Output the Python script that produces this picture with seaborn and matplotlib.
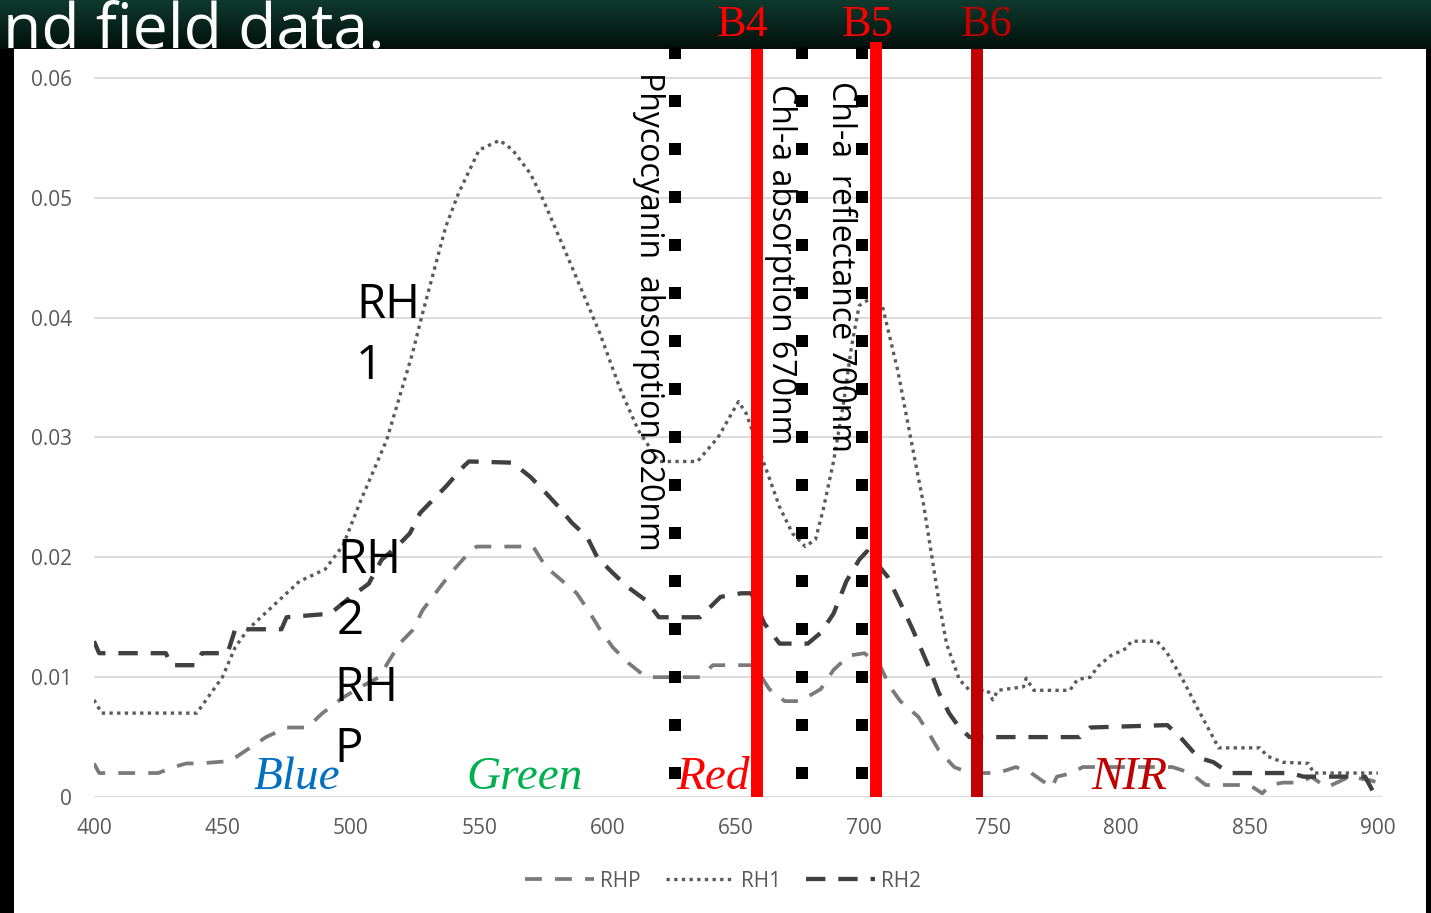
import numpy as np
import pandas as pd
import seaborn as sns
import matplotlib.pyplot as plt
from matplotlib.patches import Rectangle
from matplotlib.colors import LinearSegmentedColormap
from matplotlib.transforms import blended_transform_factory

# spectra (wavelength nm, reflectance)
rh1_wl = [400, 403, 440, 445, 450, 455, 460, 470, 480, 490, 497, 504, 514, 524, 528,
          537, 542, 550, 558, 563, 570, 575, 585, 597, 605, 612, 620, 635, 643, 651,
          654, 660, 667, 672, 677, 681, 684, 688, 692, 695, 698, 703, 707, 713, 718,
          723, 729, 732, 737, 741, 748, 750, 752, 762, 763, 766, 780, 783, 788, 791,
          796, 802, 804, 814, 818, 824, 830, 835, 838, 854, 857, 863, 873, 875, 900]
rh1 = [0.0081, 0.007, 0.007, 0.0085, 0.010, 0.0125, 0.014, 0.016, 0.018, 0.019, 0.021,
       0.0248, 0.0298, 0.037, 0.0404, 0.0476, 0.0504, 0.054, 0.0548, 0.054, 0.052, 0.0498,
       0.0448, 0.0387, 0.034, 0.0306, 0.028, 0.028, 0.030, 0.033, 0.032, 0.0284, 0.0242,
       0.022, 0.0209, 0.0215, 0.024, 0.028, 0.033, 0.0376, 0.041, 0.0417, 0.041, 0.0356,
       0.030, 0.0245, 0.0164, 0.0128, 0.0098, 0.0089, 0.0089, 0.0081, 0.0089, 0.0092,
       0.0099, 0.0089, 0.0089, 0.0098, 0.010, 0.0109, 0.0118, 0.0124, 0.013, 0.013, 0.012,
       0.0098, 0.0073, 0.0053, 0.0041, 0.0041, 0.0034, 0.0029, 0.0028, 0.002, 0.002]

rh2_wl = [400, 402, 428, 430, 440, 442, 452, 455, 473, 475, 492, 500, 507, 512, 518,
          523, 527, 532, 537, 544, 546, 563, 570, 575, 581, 586, 592, 596, 602, 608,
          615, 620, 636, 644, 652, 656, 661, 667, 678, 683, 688, 693, 698, 701, 709,
          714, 719, 725, 729, 733, 737, 741, 784, 788, 818, 823, 830, 836, 842, 866,
          871, 895, 898, 900]
rh2 = [0.013, 0.012, 0.012, 0.011, 0.011, 0.012, 0.012, 0.014, 0.014, 0.015, 0.0153,
       0.0167, 0.0178, 0.0198, 0.0209, 0.022, 0.0237, 0.0248, 0.0259, 0.0276, 0.028,
       0.0279, 0.0267, 0.0256, 0.0242, 0.0229, 0.0217, 0.020, 0.0187, 0.0175, 0.0164,
       0.015, 0.015, 0.0167, 0.017, 0.017, 0.0145, 0.0128, 0.0128, 0.0137, 0.0153, 0.018,
       0.0198, 0.0205, 0.0184, 0.0162, 0.0139, 0.0109, 0.0087, 0.007, 0.0058, 0.005,
       0.005, 0.0058, 0.006, 0.005, 0.0033, 0.0029, 0.002, 0.002, 0.0017, 0.0017,
       0.0005, 0.0003]

rhp_wl = [400, 402, 425, 431, 436, 441, 453, 460, 467, 475, 483, 489, 497, 504, 511,
          515, 519, 524, 528, 534, 539, 544, 549, 571, 576, 582, 588, 593, 597, 602,
          608, 615, 636, 641, 657, 663, 669, 675, 683, 688, 694, 700, 706, 710, 714,
          721, 726, 729, 735, 741, 752, 759, 765, 773, 775, 781, 785, 820, 827, 833,
          850, 855, 858, 863, 870, 874, 880, 889, 897, 900]
rhp = [0.0028, 0.002, 0.002, 0.0025, 0.0028, 0.0028, 0.003, 0.004, 0.005, 0.0058,
       0.0058, 0.007, 0.0083, 0.0092, 0.010, 0.0114, 0.0128, 0.0139, 0.0156, 0.0173,
       0.0187, 0.0199, 0.0209, 0.0209, 0.0192, 0.0181, 0.017, 0.0154, 0.014, 0.0125,
       0.0112, 0.010, 0.010, 0.011, 0.011, 0.009, 0.008, 0.008, 0.009, 0.0106, 0.0118,
       0.012, 0.011, 0.0092, 0.008, 0.0067, 0.005, 0.0039, 0.0025, 0.002, 0.002, 0.0025,
       0.002, 0.0008, 0.0017, 0.002, 0.0025, 0.0025, 0.002, 0.001, 0.001, 0.0003, 0.001,
       0.0012, 0.0012, 0.0017, 0.0008, 0.0017, 0.0014, 0.0012]

# Sentinel-2 bands and pigment lines
band_names = ["B4", "B5", "B6"]
band_wl = [658.2, 704.5, 743.8]
band_colors = ["#ff0000", "#ff0000", "#c00000"]
pigment_wl = [626.2, 675.7, 699.0]
pigment_labels = ["Phycocyanin  absorption 620nm", "Chl-a absorption 670nm",
                  "Chl-a  reflectance 700nm"]
region_names = ["Blue", "Green", "Red", "NIR"]
region_colors = ["#0070c0", "#00b050", "#ff0000", "#c00000"]

W, H = 1431, 913


def fx(px):
    return px / W


def fy(py):
    return 1 - py / H


sns.set_theme(style="white")
plt.rcParams['font.family'] = ['Open Sans', 'DejaVu Sans']

fig = plt.figure(figsize=(W / 100, H / 100), dpi=100, facecolor="black")

# dark slide header + white chart panel
hax = fig.add_axes([0, fy(49), 1, 49 / H], zorder=-2)
cmap = LinearSegmentedColormap.from_list("hdr", ["#0f3a2e", "#02100b"])
hax.imshow(np.linspace(0, 1, 60)[:, None], aspect="auto", cmap=cmap)
hax.axis("off")
fig.patches.append(Rectangle((fx(14), 0), fx(1412), 864 / H, transform=fig.transFigure,
                             facecolor="white", edgecolor="none", zorder=-1))
fig.text(fx(3), fy(47), "nd field data.", color="white", fontsize=45, va="baseline")

ax = fig.add_axes([fx(94), fy(797), fx(1382 - 94), (797 - 49) / H])
ax.set_facecolor("none")

sns.lineplot(x=rhp_wl, y=rhp, ax=ax, color="#7a7a7a", lw=2.7, label="RHP",
             linestyle=(0, (4.5, 3.5)), estimator=None)
sns.lineplot(x=rh1_wl, y=rh1, ax=ax, color="#5a5a5a", lw=2.4, label="RH1",
             linestyle=(0, (1, 1.3)), estimator=None)
sns.lineplot(x=rh2_wl, y=rh2, ax=ax, color="#404040", lw=3.1, label="RH2",
             linestyle=(0, (4.5, 3.0)), estimator=None)

for wl in pigment_wl:
    ax.axvline(wl, ymin=0, ymax=1.008, color="black", lw=8.64, linestyle=(2.5, (1, 3)),
               dash_capstyle="butt", zorder=4, clip_on=False)

trans = blended_transform_factory(ax.transData, fig.transFigure)
for name, wl, col in zip(band_names, band_wl, band_colors):
    top = 1.01 if name == "B5" else 1.0
    ax.axvline(wl, ymin=0, ymax=top, color=col, lw=8.6, zorder=5, clip_on=False,
               solid_capstyle="butt")
label_x = [652.7, 701.4, 747.7]
for name, x, col in zip(band_names, label_x, band_colors):
    ax.text(x, fy(36), name, transform=trans, ha="center", va="baseline", color=col,
            fontsize=32, family="Liberation Serif")

for s, px, py in zip(pigment_labels, [649, 781, 841], [72, 84, 81]):
    fig.text(fx(px), fy(py), s, rotation=270, ha="center", va="top", fontsize=23,
             color="black", zorder=6)

for s, px, py in zip(["RH\n1", "RH\n2", "RH\nP"], [356, 337, 334], [281, 536, 664]):
    fig.text(fx(px), fy(py), s, ha="left", va="top", fontsize=34, linespacing=1.38,
             color="black", zorder=6)

region_x = [479, 567.8, 641, 803.4]
for name, x, col in zip(region_names, region_x, region_colors):
    ax.text(x, 0.0007, name, ha="center", va="baseline", color=col, fontsize=34,
            style="italic", family="Liberation Serif", zorder=6)

ax.set_xlim(400, 901.6)
ax.set_ylim(0, 0.06242)
ax.set_xticks(range(400, 901, 50))
ax.set_yticks([0, 0.01, 0.02, 0.03, 0.04, 0.05, 0.06])
ax.set_yticklabels(["0", "0.01", "0.02", "0.03", "0.04", "0.05", "0.06"])
ax.tick_params(axis="both", length=0, labelsize=15, labelcolor="#595959")
ax.tick_params(axis="y", pad=16)
ax.tick_params(axis="x", pad=15)
ax.grid(axis="y", color="#d9d9d9", lw=1.3)
ax.set_axisbelow(True)
sns.despine(ax=ax, left=True, bottom=True)
ax.set_xlabel("")
ax.set_ylabel("")

handles, labels = ax.get_legend_handles_labels()
if ax.get_legend() is not None:
    ax.get_legend().remove()
fig.legend(handles, labels, loc="center", bbox_to_anchor=(fx(723), fy(881)), ncol=3,
           frameon=False, fontsize=15, labelcolor="#595959", handlelength=3.3,
           handletextpad=0.3, columnspacing=1.2)

fig.savefig("out.png", dpi=100, facecolor=fig.get_facecolor())
